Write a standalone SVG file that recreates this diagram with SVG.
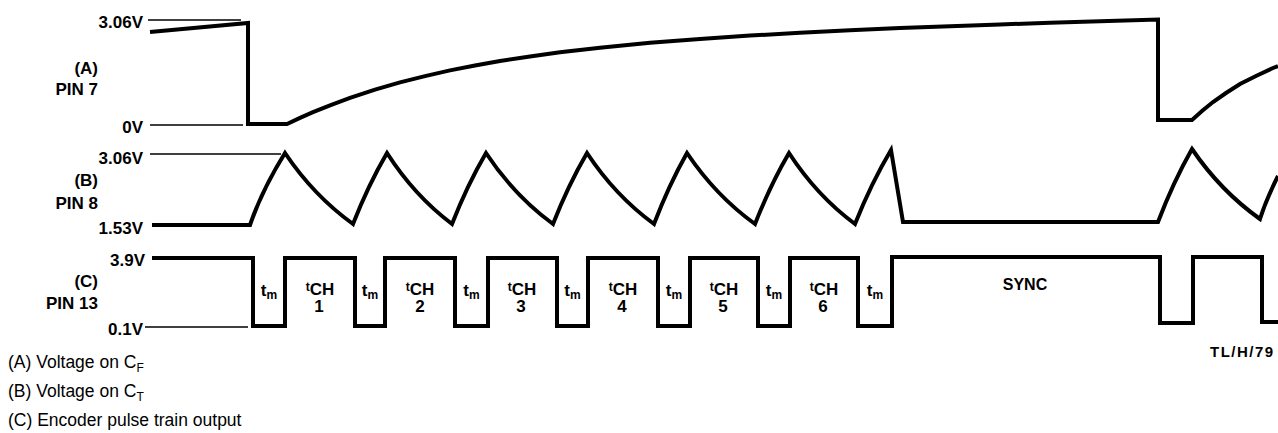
<svg xmlns="http://www.w3.org/2000/svg" width="1278" height="433" viewBox="0 0 1278 433">
<style>
  .wave { fill: none; stroke: #000; stroke-width: 4; stroke-linejoin: miter; stroke-linecap: butt; }
  .ref { fill: none; stroke: #000; stroke-width: 1.5; }
  .lbl { font-family: "Liberation Sans", Arial, sans-serif; font-weight: bold; font-size: 17px; fill: #000; }
  .end { text-anchor: end; }
  .mid { text-anchor: middle; }
  .sm { font-size: 12px; }
  .note { font-family: "Liberation Sans", Arial, sans-serif; font-size: 17.5px; fill: #000; }
  .id { font-family: "Liberation Sans", Arial, sans-serif; font-weight: bold; font-size: 15px; letter-spacing: 1.5px; fill: #000; }
</style>
<rect width="1278" height="433" fill="#fff"/>

<g id="connectors">
  <!-- (A) Pin 7 -->
  <g id="waveform-a">
    <line class="ref" x1="148" y1="20" x2="241" y2="20"/>
    <line class="ref" x1="150" y1="125" x2="243" y2="125"/>
    <polyline class="wave" points="150,32 248,23 248,124 287,124 300,117.9 313,112.2 330,105.3 350,97.9 375,89.7 400,82.4 425,76.1 450,70.4 475,65.5 500,61 530,56.4 560,52.3 600,47.7 650,42.8 700,38.9 750,35.6 800,32.8 850,30.3 900,28.1 950,26.2 1000,24.4 1050,22.8 1100,21.2 1158,19.5 1158,120 1192,120 1202,111 1213,102 1226,93 1240,84 1256,76 1273,68 1278,66"/>
  </g>
  <!-- (B) Pin 8 -->
  <g id="waveform-b">
    <line class="ref" x1="150" y1="154" x2="281" y2="154"/>
    <path class="wave" d="M152,225 H250 Q262,190 285,153 Q313.6,195.6 353,224 Q368.3,185 387,153 Q414.3,195.6 452,224 Q467.3,185 486,153 Q514.1,195.6 553,224 Q568.3,185 587,153 Q615.1,195.6 654,224 Q668.9,185 687,153 Q715.6,195.6 755,224 Q770.3,185 789,153 Q816.7,195.6 855,224 Q871.2,183.3 891,150 L903,222 H1158 Q1173.3,181.9 1192,149 Q1220.6,191 1260,219 Q1266,200 1278,176"/>
  </g>
  <!-- (C) Pin 13 -->
  <g id="waveform-c">
    <line class="ref" x1="145" y1="327" x2="248" y2="327"/>
    <path class="wave" d="M152,258 H253 V326 H285 V258 H355 V326 H385 V258 H455 V326 H488 V258 H557 V326 H588 V258 H658 V326 H690 V258 H758 V326 H790 V258 H858 V326 H892 V257 H1160 V323 H1193 V257 H1262 V322 H1278"/>
  </g>
</g>

<g id="axis-labels-a">
  <text class="lbl end" x="143" y="28">3.06V</text>
  <text class="lbl end" x="98" y="74">(A)</text>
  <text class="lbl end" x="98" y="95">PIN 7</text>
  <text class="lbl end" x="143" y="133">0V</text>
</g>
<g id="axis-labels-b">
  <text class="lbl end" x="143" y="164">3.06V</text>
  <text class="lbl end" x="98" y="186">(B)</text>
  <text class="lbl end" x="98" y="209">PIN 8</text>
  <text class="lbl end" x="143" y="234">1.53V</text>
</g>
<g id="axis-labels-c">
  <text class="lbl end" x="145" y="266">3.9V</text>
  <text class="lbl end" x="98" y="287">(C)</text>
  <text class="lbl end" x="98" y="309">PIN 13</text>
  <text class="lbl end" x="143" y="335">0.1V</text>
</g>

<g id="pulse-labels">
  <text class="lbl mid" x="269" y="296">t<tspan class="sm" dy="3">m</tspan></text>
  <text class="lbl mid" x="370" y="296">t<tspan class="sm" dy="3">m</tspan></text>
  <text class="lbl mid" x="471.5" y="296">t<tspan class="sm" dy="3">m</tspan></text>
  <text class="lbl mid" x="572.5" y="296">t<tspan class="sm" dy="3">m</tspan></text>
  <text class="lbl mid" x="674" y="296">t<tspan class="sm" dy="3">m</tspan></text>
  <text class="lbl mid" x="774" y="296">t<tspan class="sm" dy="3">m</tspan></text>
  <text class="lbl mid" x="875" y="296">t<tspan class="sm" dy="3">m</tspan></text>

  <text class="lbl mid" x="320" y="295"><tspan class="sm" dy="-4">t</tspan><tspan dy="4">CH</tspan></text>
  <text class="lbl mid" x="319" y="312">1</text>
  <text class="lbl mid" x="420" y="295"><tspan class="sm" dy="-4">t</tspan><tspan dy="4">CH</tspan></text>
  <text class="lbl mid" x="420" y="312">2</text>
  <text class="lbl mid" x="522" y="295"><tspan class="sm" dy="-4">t</tspan><tspan dy="4">CH</tspan></text>
  <text class="lbl mid" x="521" y="312">3</text>
  <text class="lbl mid" x="623" y="295"><tspan class="sm" dy="-4">t</tspan><tspan dy="4">CH</tspan></text>
  <text class="lbl mid" x="622" y="312">4</text>
  <text class="lbl mid" x="724" y="295"><tspan class="sm" dy="-4">t</tspan><tspan dy="4">CH</tspan></text>
  <text class="lbl mid" x="723" y="312">5</text>
  <text class="lbl mid" x="824" y="295"><tspan class="sm" dy="-4">t</tspan><tspan dy="4">CH</tspan></text>
  <text class="lbl mid" x="823" y="312">6</text>

  <text class="lbl mid" x="1025" y="290" style="font-size:16px">SYNC</text>
</g>

<g id="legend">
  <text class="note" x="8" y="368">(A) Voltage on C<tspan font-size="12" dy="4">F</tspan></text>
  <text class="note" x="8" y="397">(B) Voltage on C<tspan font-size="12" dy="4">T</tspan></text>
  <text class="note" x="8" y="426">(C) Encoder pulse train output</text>
  <text class="id" x="1210" y="357">TL/H/79</text>
</g>
</svg>
